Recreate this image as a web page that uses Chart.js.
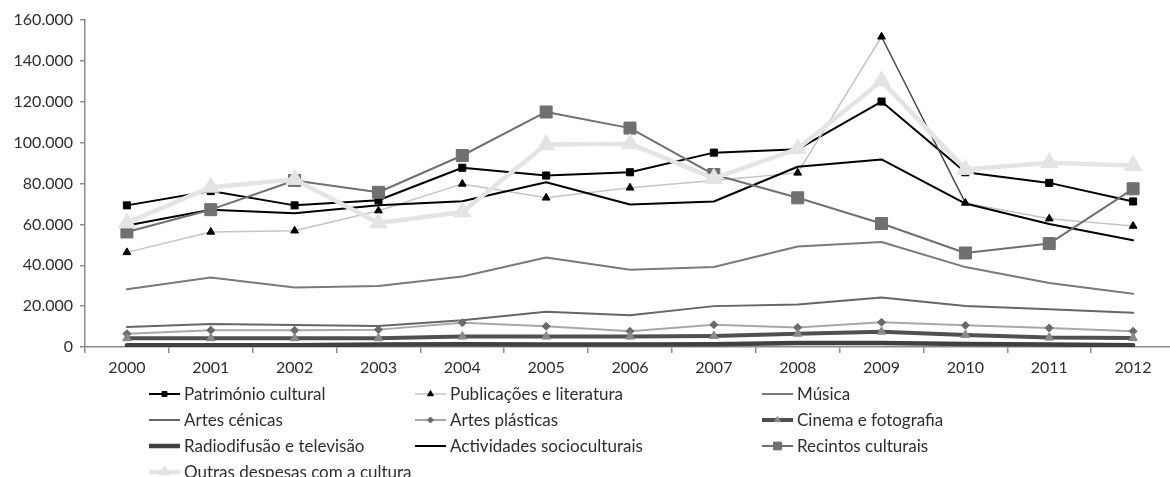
<!DOCTYPE html>
<html>
<head>
<meta charset="utf-8">
<script src="https://cdn.jsdelivr.net/npm/chart.js@4/dist/chart.umd.min.js"></script>
<style>
  html, body { margin: 0; padding: 0; background: #ffffff; overflow: hidden; }
  #wrap { position: relative; width: 1186px; height: 477px; }
</style>
</head>
<body>
<div id="wrap"><canvas id="chart"></canvas></div>
<script>
// Despesas em cultura por domínio, 2000–2012
const years = ['2000','2001','2002','2003','2004','2005','2006','2007','2008','2009','2010','2011','2012'];

const seriesNames = [
  'Património cultural',
  'Publicações e literatura',
  'Música',
  'Artes cénicas',
  'Artes plásticas',
  'Cinema e fotografia',
  'Radiodifusão e televisão',
  'Actividades socioculturais',
  'Recintos culturais',
  'Outras despesas com a cultura'
];

const patrimonio   = [69300, 76300, 69300, 71800, 87700, 83900, 85500, 95100, 96700, 120100, 85500, 80300, 71200];
const publicacoes  = [46300, 56300, 56900, 66700, 79800, 73000, 77900, 81500, 85200, 151800, 70500, 62800, 59200];
const musica       = [28300, 34000, 29100, 29900, 34500, 43800, 37800, 39100, 49200, 51400, 39100, 31300, 26000];
const artesCenicas = [9800, 11300, 10800, 10300, 13100, 17200, 15500, 20000, 20800, 24200, 20100, 18500, 16700];
const artesPlast   = [6500, 8200, 8200, 8500, 11900, 10100, 7700, 10900, 9500, 12100, 10600, 9300, 7700];
const cinema       = [4300, 4300, 4300, 4300, 5100, 5100, 5100, 5400, 6500, 7500, 5900, 4600, 4400];
const radiodifusao = [800, 800, 900, 1200, 1300, 1200, 1200, 1300, 1900, 2000, 1500, 1200, 900];
const actividades  = [59400, 67200, 65400, 69300, 71300, 80600, 69700, 71200, 88200, 91800, 70200, 60200, 52200];
const recintos     = [56300, 67200, 81500, 75700, 93700, 115000, 107100, 84400, 73000, 60400, 46000, 50600, 77400];
const outras       = [60700, 78200, 82000, 60700, 66100, 99100, 99500, 82500, 97000, 130200, 86900, 90200, 88800];

const yMax = 160000;
const yStep = 20000;

const FONT = 'Lato, "Open Sans", "DejaVu Sans", sans-serif';
const TEXT = '#2e2e2e';
const AXIS = '#8c8c8c';

function fmtThousands(v) {
  if (v === 0) return '0';
  return String(v).replace(/\B(?=(\d{3})+(?!\d))/g, '.');
}

// Line and marker styles per series (legendRadius: marker size in the legend)
const styles = [
  { borderColor: '#000000', borderWidth: 2,   pointStyle: 'rect',     pointRadius: 5,   legendRadius: 3.5, pointBackgroundColor: '#000000', pointBorderColor: '#000000' },
  { borderColor: '#c4c4c4', borderWidth: 1.5, pointStyle: 'triangle', pointRadius: 4.5, legendRadius: 3.5, pointBackgroundColor: '#000000', pointBorderColor: '#000000' },
  { borderColor: '#7a7a7a', borderWidth: 2,   pointStyle: false,      pointRadius: 0 },
  { borderColor: '#666666', borderWidth: 2,   pointStyle: false,      pointRadius: 0 },
  { borderColor: '#a8a8a8', borderWidth: 2,   pointStyle: 'rectRot',  pointRadius: 4,   legendRadius: 3,   pointBackgroundColor: '#6a6a6a', pointBorderColor: '#6a6a6a' },
  { borderColor: '#505050', borderWidth: 4,   pointStyle: 'triangle', pointRadius: 5,   legendRadius: 3.5, pointBackgroundColor: '#8a8a8a', pointBorderColor: '#8a8a8a' },
  { borderColor: '#404040', borderWidth: 4.5, pointStyle: false,      pointRadius: 0 },
  { borderColor: '#000000', borderWidth: 2,   pointStyle: false,      pointRadius: 0 },
  { borderColor: '#707070', borderWidth: 2,   pointStyle: 'rect',     pointRadius: 8.5, legendRadius: 5.5, pointBackgroundColor: '#707070', pointBorderColor: '#707070' },
  { borderColor: '#e4e4e4', borderWidth: 4.5, pointStyle: 'triangle', pointRadius: 10,  legendRadius: 6,   pointBackgroundColor: '#e4e4e4', pointBorderColor: '#e4e4e4' }
];

const values = [patrimonio, publicacoes, musica, artesCenicas, artesPlast, cinema, radiodifusao, actividades, recintos, outras];

const datasets = values.map((data, i) => {
  const s = styles[i];
  return {
    label: seriesNames[i],
    data: data,
    borderColor: s.borderColor,
    backgroundColor: s.borderColor,
    borderWidth: s.borderWidth,
    pointStyle: s.pointStyle,
    pointRadius: s.pointRadius,
    pointHoverRadius: s.pointRadius,
    pointBackgroundColor: s.pointBackgroundColor || s.borderColor,
    pointBorderColor: s.pointBorderColor || s.borderColor,
    pointBorderWidth: 1,
    legendRadius: s.legendRadius || 0,
    tension: 0,
    fill: false,
    order: values.length - i,
    borderJoinStyle: 'round',
    borderCapStyle: 'round'
  };
});

// The drop after the 2009 peak of "Publicações e literatura" is drawn darker
datasets[1].segment = {
  borderColor: ctx => (ctx.p0DataIndex === 9 ? '#4a4a4a' : undefined)
};

// Three-column legend below the axis
const legendLayout = {
  sampleX: [149, 415, 762],
  sampleLen: 31,
  textGap: 4,
  rowY: [394, 420, 446, 472]
};

const gridLegend = {
  id: 'gridLegend',
  afterDraw(chart) {
    const ctx = chart.ctx;
    ctx.save();
    chart.data.datasets.forEach((ds, i) => {
      const col = i % 3;
      const row = Math.floor(i / 3);
      const x0 = legendLayout.sampleX[col];
      const x1 = x0 + legendLayout.sampleLen;
      const y = legendLayout.rowY[row];
      ctx.beginPath();
      ctx.strokeStyle = ds.borderColor;
      ctx.lineWidth = ds.borderWidth;
      ctx.lineCap = 'butt';
      ctx.moveTo(x0, y);
      ctx.lineTo(x1, y);
      ctx.stroke();
      if (ds.pointStyle) {
        ctx.fillStyle = ds.pointBackgroundColor;
        ctx.strokeStyle = ds.pointBorderColor;
        ctx.lineWidth = 1;
        Chart.helpers.drawPoint(ctx, {
          pointStyle: ds.pointStyle,
          radius: ds.legendRadius,
          borderWidth: 1,
          rotation: 0
        }, (x0 + x1) / 2, y);
      }
      ctx.fillStyle = TEXT;
      ctx.font = '17px ' + FONT;
      ctx.textAlign = 'left';
      ctx.textBaseline = 'middle';
      ctx.fillText(ds.label, x1 + legendLayout.textGap, y + 1);
    });
    ctx.restore();
  }
};

new Chart(document.getElementById('chart'), {
  type: 'line',
  data: { labels: years, datasets: datasets },
  plugins: [gridLegend],
  options: {
    responsive: true,
    maintainAspectRatio: false,
    animation: false,
    events: [],
    layout: { padding: { top: 20, left: 0, right: 5, bottom: 97 } },
    plugins: {
      legend: { display: false },
      tooltip: { enabled: false },
      title: { display: false }
    },
    elements: { line: { clip: false } },
    scales: {
      x: {
        type: 'category',
        offset: true,
        grid: {
          offset: true,
          drawOnChartArea: false,
          drawTicks: true,
          tickLength: 6,
          color: AXIS,
          lineWidth: 1.5
        },
        border: { display: true, color: AXIS, width: 1.5 },
        ticks: {
          color: TEXT,
          font: { family: FONT, size: 16 },
          padding: 5,
          maxRotation: 0,
          autoSkip: false
        },
        afterFit(scale) { scale.height = 33; }
      },
      y: {
        min: 0,
        max: yMax,
        grid: {
          drawOnChartArea: false,
          drawTicks: true,
          tickLength: 5,
          color: AXIS,
          lineWidth: 1.5
        },
        border: { display: true, color: AXIS, width: 1.5 },
        ticks: {
          stepSize: yStep,
          color: TEXT,
          font: { family: FONT, size: 16 },
          padding: 7,
          callback: v => fmtThousands(v)
        },
        afterFit(scale) { scale.width = 85; }
      }
    }
  }
});
</script>
</body>
</html>
